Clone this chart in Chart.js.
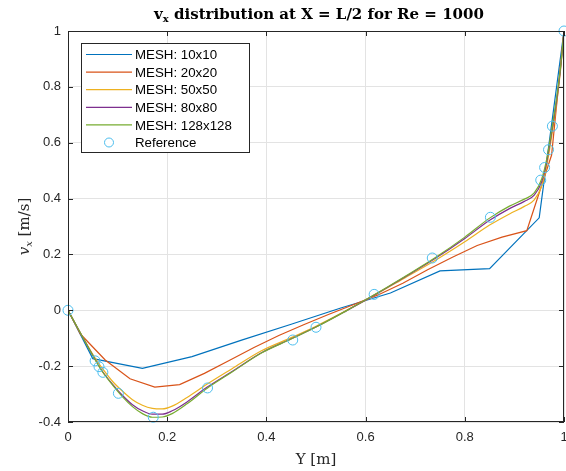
<!DOCTYPE html>
<html>
<head>
<meta charset="utf-8">
<script src="https://cdn.jsdelivr.net/npm/chart.js@4.4.1/dist/chart.umd.min.js"></script>
<style>
  html, body { margin: 0; padding: 0; background: #fff; }
</style>
</head>
<body>
<canvas id="vxChart" width="566" height="471"></canvas>
<script>
// positions along the vertical centre line (cell centres for the coarse meshes)
const yMesh10 = [0, 0.05, 0.15, 0.25, 0.35, 0.45, 0.55, 0.65, 0.75, 0.85, 0.95, 1];
const vMesh10 = [0, -0.173, -0.208, -0.166, -0.107, -0.05, 0.008, 0.062, 0.141, 0.149, 0.331, 1];

const yMesh20 = [0, 0.025, 0.075, 0.125, 0.175, 0.225, 0.275, 0.325, 0.375, 0.425, 0.475,
                 0.525, 0.575, 0.625, 0.675, 0.725, 0.775, 0.825, 0.875, 0.925, 0.975, 1];
const vMesh20 = [0, -0.085, -0.178, -0.245, -0.275, -0.266, -0.226, -0.18, -0.133, -0.09, -0.052,
                 -0.015, 0.02, 0.055, 0.097, 0.145, 0.19, 0.232, 0.262, 0.285, 0.556, 1];

// the finer meshes are sampled at the same positions
const yFine = [0, 0.02, 0.04, 0.055, 0.07, 0.09, 0.11, 0.13, 0.15, 0.17, 0.19, 0.21, 0.24, 0.28,
               0.33, 0.39, 0.45, 0.5, 0.56, 0.62, 0.68, 0.74, 0.8, 0.85, 0.89, 0.92, 0.94, 0.955,
               0.965, 0.975, 0.985, 0.993, 1];
const vMesh50 = [0, -0.065, -0.128, -0.172, -0.21, -0.255, -0.29, -0.32, -0.34, -0.351, -0.353,
                 -0.343, -0.312, -0.265, -0.21, -0.145, -0.098, -0.057, -0.002, 0.056, 0.117,
                 0.178, 0.245, 0.305, 0.345, 0.372, 0.395, 0.445, 0.515, 0.62, 0.74, 0.86, 1];
const vMesh80 = [0, -0.065, -0.13, -0.177, -0.22, -0.265, -0.305, -0.338, -0.36, -0.372, -0.372,
                 -0.36, -0.328, -0.276, -0.22, -0.152, -0.102, -0.06, -0.003, 0.057, 0.12,
                 0.185, 0.257, 0.322, 0.364, 0.39, 0.412, 0.46, 0.53, 0.635, 0.75, 0.865, 1];
const vMesh128 = [0, -0.065, -0.13, -0.178, -0.222, -0.268, -0.31, -0.345, -0.37, -0.383, -0.382,
                  -0.37, -0.335, -0.28, -0.222, -0.153, -0.103, -0.06, -0.003, 0.058, 0.122,
                  0.188, 0.262, 0.33, 0.373, 0.398, 0.42, 0.47, 0.54, 0.645, 0.76, 0.87, 1];

// reference (Ghia et al.)
const yRef = [0, 0.0547, 0.0625, 0.0703, 0.1016, 0.1719, 0.2813, 0.4531, 0.5, 0.6172,
              0.7344, 0.8516, 0.9531, 0.9609, 0.9688, 0.9766, 1];
const vRef = [0, -0.18109, -0.20196, -0.2222, -0.2973, -0.38289, -0.27805, -0.10648, -0.0608,
              0.05702, 0.18719, 0.33304, 0.46604, 0.51117, 0.57492, 0.65928, 1];

const xTicks = [0, 0.2, 0.4, 0.6, 0.8, 1];
const yTicks = [-0.4, -0.2, 0, 0.2, 0.4, 0.6, 0.8, 1];

const pts = (xs, ys) => xs.map((x, i) => ({ x: x, y: ys[i] }));
const fmt = v => String(+v.toFixed(1));

const ink = '#262626';
const sans = '"Liberation Sans", Arial, sans-serif';
const serif = '"DejaVu Serif", "Liberation Serif", serif';

function meshLine(label, xs, ys, color, order, smooth) {
  return {
    label: label,
    data: pts(xs, ys),
    showLine: true,
    borderColor: color,
    backgroundColor: color,
    borderWidth: 1.2,
    pointRadius: 0,
    cubicInterpolationMode: smooth ? 'monotone' : 'default',
    order: order
  };
}

// draw a run of text pieces (for subscripts) centred on cx
function drawRich(ctx, parts, cx, base) {
  let total = 0;
  parts.forEach(p => { ctx.font = p.font; p.w = ctx.measureText(p.text).width; total += p.w; });
  let px = cx - total / 2;
  parts.forEach(p => {
    ctx.font = p.font;
    ctx.fillText(p.text, px, base + (p.dy || 0));
    px += p.w;
  });
}

const decorations = {
  id: 'decorations',
  afterDraw(chart) {
    const ctx = chart.ctx;
    const a = chart.chartArea;
    const sx = chart.scales.x, sy = chart.scales.y;
    ctx.save();

    // axes box + inward ticks
    ctx.strokeStyle = ink;
    ctx.lineWidth = 1;
    ctx.strokeRect(a.left + 0.5, a.top + 0.5, a.right - a.left - 1, a.bottom - a.top - 1);
    const t = 5;
    ctx.beginPath();
    xTicks.forEach(v => {
      const p = Math.round(sx.getPixelForValue(v)) + 0.5;
      ctx.moveTo(p, a.bottom); ctx.lineTo(p, a.bottom - t);
      ctx.moveTo(p, a.top); ctx.lineTo(p, a.top + t);
    });
    yTicks.forEach(v => {
      const p = Math.round(sy.getPixelForValue(v)) + 0.5;
      ctx.moveTo(a.left, p); ctx.lineTo(a.left + t, p);
      ctx.moveTo(a.right, p); ctx.lineTo(a.right - t, p);
    });
    ctx.stroke();

    // title
    ctx.fillStyle = '#000';
    ctx.textBaseline = 'alphabetic';
    drawRich(ctx, [
      { text: 'v', font: 'bold 15px ' + serif },
      { text: 'x', font: 'bold 10px ' + serif, dy: 3 },
      { text: ' distribution at X = L/2 for Re = 1000', font: 'bold 15px ' + serif }
    ], (a.left + a.right) / 2 + 3, 19);

    // axis titles
    ctx.fillStyle = ink;
    drawRich(ctx, [{ text: 'Y [m]', font: '15px ' + serif }], (a.left + a.right) / 2, 464);
    ctx.save();
    ctx.translate(29, (a.top + a.bottom) / 2);
    ctx.rotate(-Math.PI / 2);
    drawRich(ctx, [
      { text: 'v', font: 'italic 15px ' + serif },
      { text: 'x', font: 'italic 10px ' + serif, dy: 3 },
      { text: ' [m/s]', font: '15px ' + serif }
    ], 0, 0);
    ctx.restore();

    // legend box
    const lx = 81.5, ly = 43.5, lw = 168, lh = 109, rowH = 17.6;
    ctx.fillStyle = '#fff';
    ctx.fillRect(lx, ly, lw, lh);
    ctx.strokeStyle = ink;
    ctx.strokeRect(lx, ly, lw, lh);
    ctx.font = '13.3px ' + sans;
    ctx.textBaseline = 'middle';
    chart.data.datasets.forEach((ds, i) => {
      const yy = ly + 11 + i * rowH;
      ctx.strokeStyle = ds.borderColor;
      ctx.beginPath();
      if (ds.showLine) {
        ctx.lineWidth = 1.2;
        ctx.moveTo(86, yy); ctx.lineTo(132, yy);
      } else {
        ctx.lineWidth = 1;
        ctx.arc(109, yy, 4.5, 0, Math.PI * 2);
      }
      ctx.stroke();
      ctx.fillStyle = '#000';
      ctx.fillText(ds.label, 135, yy + 1);
    });
    ctx.restore();
  }
};

new Chart(document.getElementById('vxChart'), {
  type: 'scatter',
  data: {
    datasets: [
      meshLine('MESH: 10x10', yMesh10, vMesh10, '#0072BD', 5, false),
      meshLine('MESH: 20x20', yMesh20, vMesh20, '#D95319', 4, false),
      meshLine('MESH: 50x50', yFine, vMesh50, '#EDB120', 3, true),
      meshLine('MESH: 80x80', yFine, vMesh80, '#7E2F8E', 2, true),
      meshLine('MESH: 128x128', yFine, vMesh128, '#77AC30', 1, true),
      {
        label: 'Reference',
        data: pts(yRef, vRef),
        showLine: false,
        borderColor: '#4DBEEE',
        backgroundColor: 'rgba(0,0,0,0)',
        borderWidth: 1,
        pointRadius: 5,
        pointStyle: 'circle',
        clip: false,
        order: 0
      }
    ]
  },
  options: {
    responsive: false,
    animation: false,
    events: [],
    layout: { autoPadding: false, padding: { top: 31, right: 2, left: 0, bottom: 0 } },
    plugins: {
      legend: { display: false },
      tooltip: { enabled: false }
    },
    scales: {
      x: {
        type: 'linear',
        min: 0,
        max: 1,
        afterBuildTicks: s => { s.ticks = xTicks.map(v => ({ value: v })); },
        afterFit: s => { s.height = 49; s.paddingLeft = 0; s.paddingRight = 0; },
        grid: { color: '#e3e3e3', drawTicks: false },
        border: { display: false },
        ticks: { color: ink, font: { family: sans, size: 13 }, padding: 8, maxRotation: 0, callback: fmt }
      },
      y: {
        type: 'linear',
        min: -0.4,
        max: 1,
        afterBuildTicks: s => { s.ticks = yTicks.map(v => ({ value: v })); },
        afterFit: s => { s.width = 68; s.paddingTop = 0; s.paddingBottom = 0; },
        grid: { color: '#e3e3e3', drawTicks: false },
        border: { display: false },
        ticks: { color: ink, font: { family: sans, size: 13 }, padding: 7, callback: fmt }
      }
    }
  },
  plugins: [decorations]
});
</script>
</body>
</html>
